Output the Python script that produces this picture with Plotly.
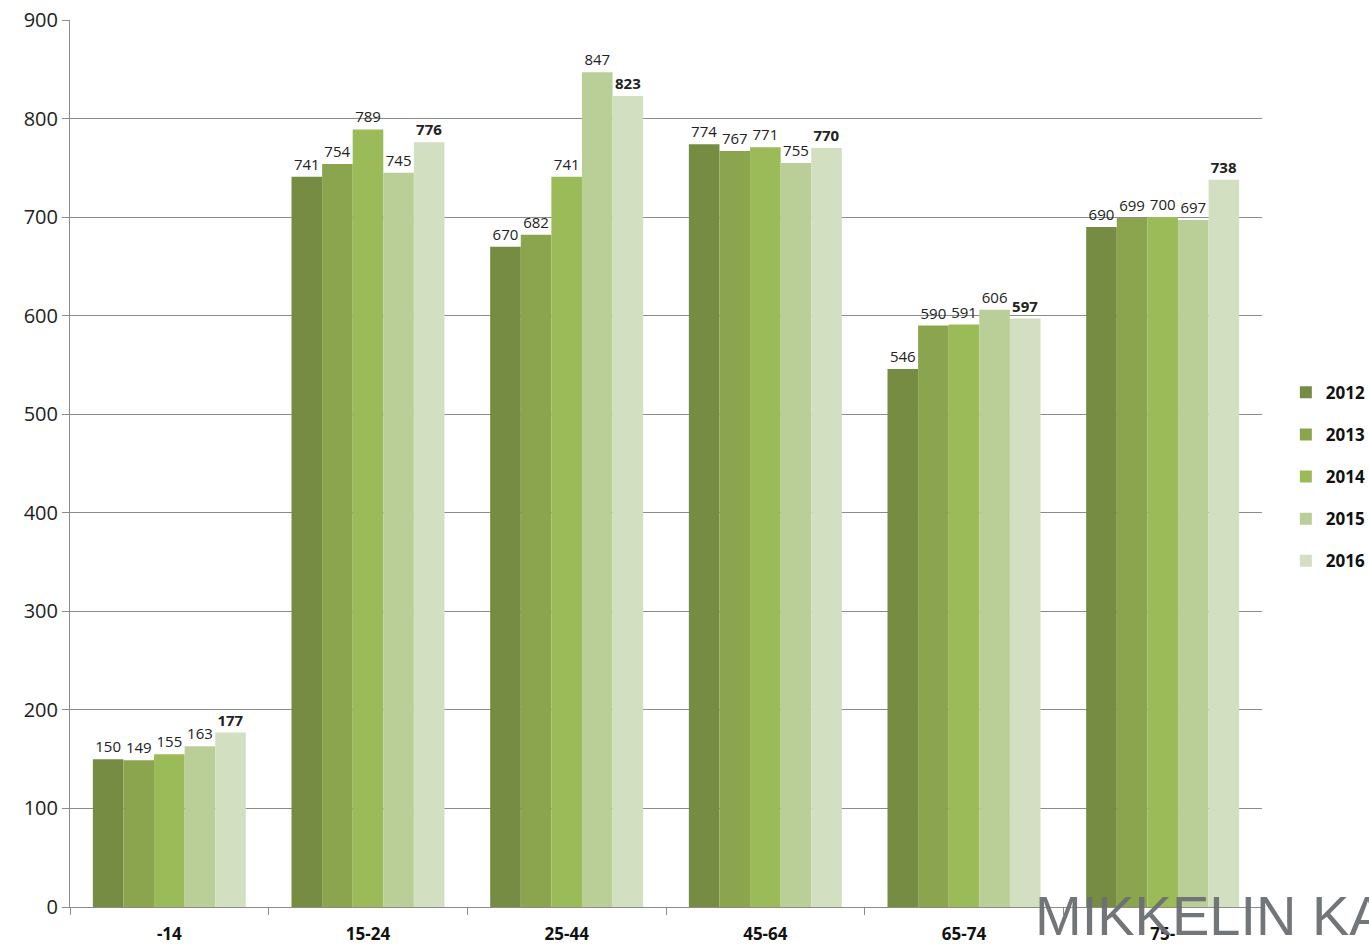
import plotly.graph_objects as go

categories = ["-14", "15-24", "25-44", "45-64", "65-74", "75-"]
years = ["2012", "2013", "2014", "2015", "2016"]
v2012 = [150, 741, 670, 774, 546, 690]
v2013 = [149, 754, 682, 767, 590, 699]
v2014 = [155, 789, 741, 771, 591, 700]
v2015 = [163, 745, 847, 755, 606, 697]
v2016 = [177, 776, 823, 770, 597, 738]
series = [v2012, v2013, v2014, v2015, v2016]
colors = ["#758C42", "#8AA54E", "#9BBB59", "#BACE97", "#D2DFC0"]

fig = go.Figure()
for i, (y, vals) in enumerate(zip(years, series)):
    bold = (y == "2016")
    fig.add_trace(go.Bar(
        x=categories, y=vals, name="<b>" + y + "</b>", marker_color=colors[i],
        marker_line_width=0,
        text=vals,
        texttemplate="<b>%{text}</b>" if bold else "%{text}",
        textposition="outside", cliponaxis=False,
        textfont=dict(size=15, color="#222222", family="Open Sans, DejaVu Sans, sans-serif"),
        legendgroup=y,
    ))

fig.update_layout(
    width=1369, height=945,
    paper_bgcolor="white", plot_bgcolor="white",
    margin=dict(l=70, r=107, t=20, b=38, autoexpand=False),
    barmode="group", bargap=0.23, bargroupgap=0,
    font=dict(family="Open Sans, DejaVu Sans, sans-serif", color="#222222"),
    legend=dict(x=1.02, y=0.485, xanchor="left", yanchor="middle",
                font=dict(size=17, color="#111111", family="Open Sans, sans-serif"),
                tracegroupgap=17, itemwidth=30, traceorder="grouped"),
)
fig.update_yaxes(range=[0, 900], dtick=100, showgrid=True, gridcolor="#8c8c8c", gridwidth=1,
                 showline=True, linecolor="#8c8c8c", ticks="outside", ticklen=7, tickcolor="#8c8c8c",
                 tickfont=dict(size=20, color="#222222"), zeroline=False, automargin=False)
fig.update_xaxes(showline=True, linecolor="#8c8c8c", ticks="outside", tickson="boundaries",
                 ticklen=7, tickcolor="#8c8c8c", automargin=False, ticklabelstandoff=12,
                 tickfont=dict(size=17, color="#111111", family="Open Sans, sans-serif"),
                 tickprefix="<b>", ticksuffix="</b>")

fig.add_annotation(text="MIKKELIN KA", xref="paper", yref="paper", x=1.0, y=0,
                   xanchor="left", yanchor="middle", xshift=-229, yshift=-8,
                   showarrow=False, font=dict(size=56, color="rgba(108,111,114,0.95)",
                                              family="Liberation Sans Narrow, sans-serif"))

fig.write_html("out.html", config={"displayModeBar": False},
               post_script="document.body.style.margin='0';document.body.style.overflow='hidden';")
